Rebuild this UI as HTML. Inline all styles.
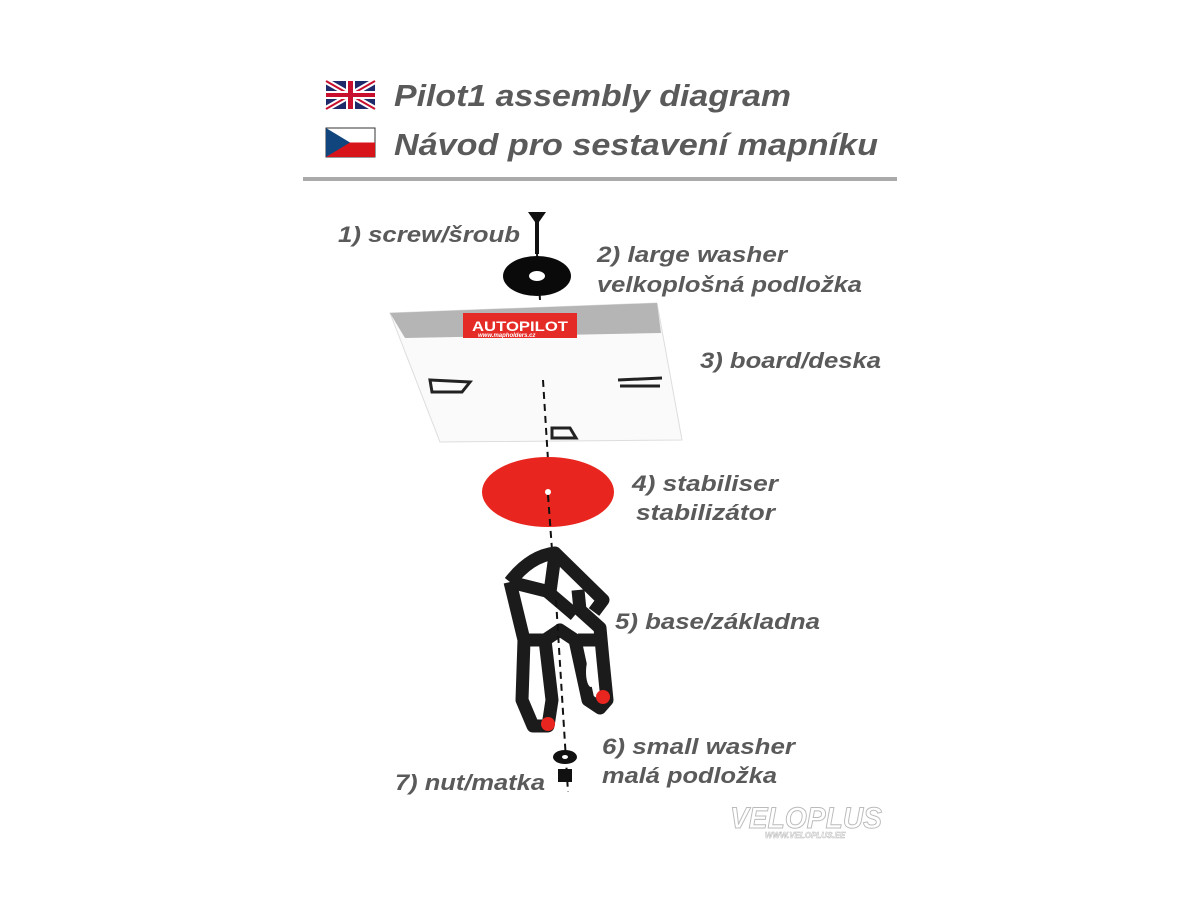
<!DOCTYPE html>
<html><head><meta charset="utf-8"><style>
html,body{margin:0;padding:0;background:#fff;}
svg{display:block;}
text{font-family:"Liberation Sans",sans-serif;font-weight:bold;font-style:italic;fill:#5a5a5a;}
</style></head><body>
<svg width="1200" height="900" viewBox="0 0 1200 900" xmlns="http://www.w3.org/2000/svg">
<g transform="translate(326,81)">
<rect width="49" height="28" fill="#1f2a6b"/>
<path d="M0 0L49 28M49 0L0 28" stroke="#fff" stroke-width="6"/>
<path d="M0 0L49 28M49 0L0 28" stroke="#c8102e" stroke-width="2"/>
<rect x="20" width="9" height="28" fill="#fff"/><rect y="10" width="49" height="8" fill="#fff"/>
<rect x="22" width="5" height="28" fill="#c8102e"/><rect y="12" width="49" height="4" fill="#c8102e"/>
</g>
<g transform="translate(326,128)">
<rect width="49" height="29" fill="#fff" stroke="#333" stroke-width="1"/>
<rect y="14.5" width="49" height="14.5" fill="#d7141a"/>
<path d="M0 0L24 14.5L0 29Z" fill="#11457e"/>
</g>
<text x="394" y="106" font-size="31" textLength="397" lengthAdjust="spacingAndGlyphs">Pilot1 assembly diagram</text>
<text x="394" y="155" font-size="31" textLength="484" lengthAdjust="spacingAndGlyphs">Návod pro sestavení mapníku</text>
<rect x="303" y="177" width="594" height="4" fill="#aaa"/>

<path d="M528 212L546 212L539 222L539 254L535 254L535 222Z" fill="#111"/>
<line x1="537" y1="254" x2="540" y2="300" stroke="#111" stroke-width="2" stroke-dasharray="6,4"/>
<ellipse cx="537" cy="276" rx="34" ry="20" fill="#0a0a0a"/>
<ellipse cx="537" cy="276" rx="8" ry="5" fill="#fff"/>

<polygon points="390,313 657,303 682,440 440,442" fill="#fafafa" stroke="#ddd"/>
<polygon points="390,313 657,303 661,333 405,338" fill="#b5b5b5"/>
<rect x="463" y="313" width="114" height="25" fill="#e52b26"/>
<text x="472" y="331" font-size="14" style="font-style:normal;fill:#fff" textLength="96" lengthAdjust="spacingAndGlyphs">AUTOPILOT</text>
<text x="478" y="337" font-size="6" style="fill:#fff">www.mapholders.cz</text>
<path d="M430 380L470 382L462 392L432 392Z" fill="none" stroke="#222" stroke-width="3"/>
<path d="M618 380L662 378M620 386L660 386" stroke="#222" stroke-width="3"/>
<path d="M552 428L570 428L576 438L552 438Z" fill="none" stroke="#222" stroke-width="3"/>
<line x1="543" y1="380" x2="548" y2="460" stroke="#111" stroke-width="2" stroke-dasharray="7,5"/>

<ellipse cx="548" cy="492" rx="66" ry="35" fill="#e8251f"/>
<circle cx="548" cy="492" r="3" fill="#fff"/>
<line x1="548" y1="495" x2="552" y2="550" stroke="#111" stroke-width="2" stroke-dasharray="7,5"/>

<g fill="none" stroke="#1b1b1b" stroke-width="13" stroke-linejoin="round">
<path d="M510 582Q530 556 555 553L603 600L594 612"/>
<path d="M510 582L550 592L555 555"/>
<path d="M510 582L524 640L522 700L533 726L548 726L552 700L545 640L560 630L575 640L588 700L600 708L607 700L603 660L600 628L580 610L578 590"/>
<path d="M548 592L575 615M525 640L548 640M578 640L600 640"/>
</g>
<ellipse cx="534" cy="690" rx="5" ry="15" fill="#fff"/>
<ellipse cx="591" cy="672" rx="5" ry="15" fill="#fff"/>
<ellipse cx="548" cy="724" rx="7" ry="7" fill="#e8251f"/>
<ellipse cx="603" cy="697" rx="7" ry="7" fill="#e8251f"/>
<line x1="556" y1="600" x2="568" y2="792" stroke="#111" stroke-width="2" stroke-dasharray="7,5"/>
<ellipse cx="565" cy="757" rx="12" ry="7" fill="#111"/>
<ellipse cx="565" cy="757" rx="3" ry="2" fill="#fff"/>
<rect x="558" y="769" width="14" height="13" fill="#111"/>

<text x="338" y="242" font-size="22" textLength="182" lengthAdjust="spacingAndGlyphs">1) screw/šroub</text>
<text x="597" y="262" font-size="22" textLength="190" lengthAdjust="spacingAndGlyphs">2) large washer</text>
<text x="597" y="292" font-size="22" textLength="265" lengthAdjust="spacingAndGlyphs">velkoplošná podložka</text>
<text x="700" y="368" font-size="22" textLength="181" lengthAdjust="spacingAndGlyphs">3) board/deska</text>
<text x="632" y="491" font-size="22" textLength="146" lengthAdjust="spacingAndGlyphs">4) stabiliser</text>
<text x="636" y="520" font-size="22" textLength="139" lengthAdjust="spacingAndGlyphs">stabilizátor</text>
<text x="615" y="629" font-size="22" textLength="205" lengthAdjust="spacingAndGlyphs">5) base/základna</text>
<text x="602" y="754" font-size="22" textLength="193" lengthAdjust="spacingAndGlyphs">6) small washer</text>
<text x="602" y="783" font-size="22" textLength="175" lengthAdjust="spacingAndGlyphs">malá podložka</text>
<text x="395" y="790" font-size="22" textLength="150" lengthAdjust="spacingAndGlyphs">7) nut/matka</text>

<text x="730" y="828" font-size="30" style="fill:#fff;stroke:#bbb;stroke-width:1" textLength="152" lengthAdjust="spacingAndGlyphs">VELOPLUS</text>
<text x="765" y="838" font-size="8" style="fill:#fff;stroke:#bbb;stroke-width:0.5">WWW.VELOPLUS.EE</text>
</svg>
</body></html>
